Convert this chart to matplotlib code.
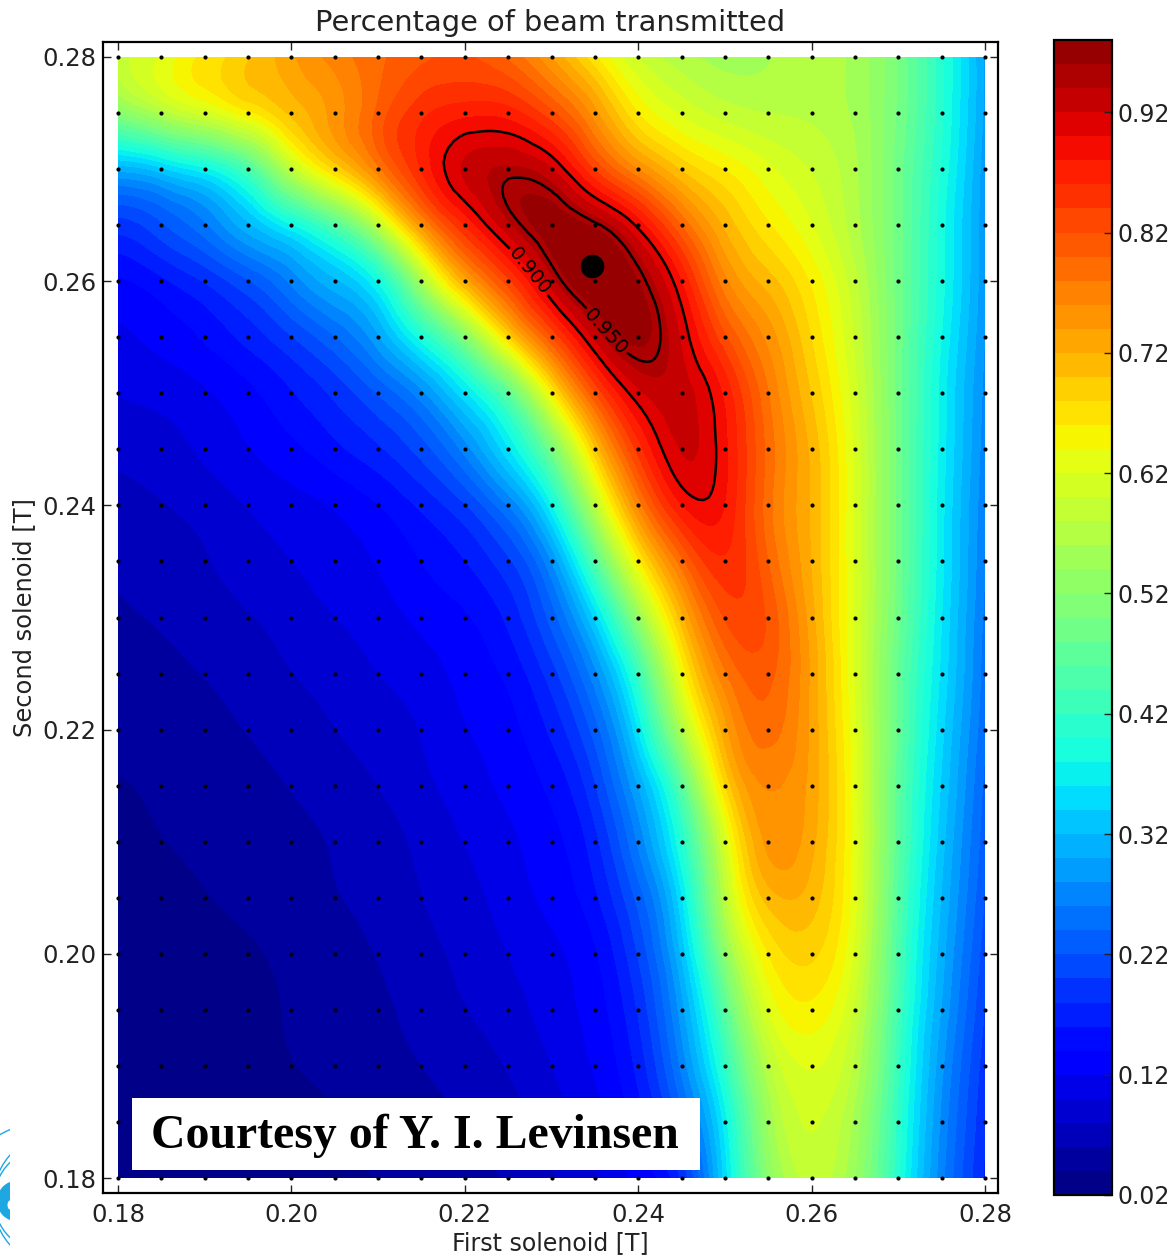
#!/usr/bin/python
import numpy as np
import matplotlib
matplotlib.use('Agg')
import matplotlib.pyplot as plt
import matplotlib.tri as mtri
from matplotlib.patches import Circle, Ellipse, Rectangle

# grid of the scan, both solenoids [T]
b1 = [0.180, 0.185, 0.190, 0.195, 0.200, 0.205, 0.210, 0.215, 0.220, 0.225, 0.230,
      0.235, 0.240, 0.245, 0.250, 0.255, 0.260, 0.265, 0.270, 0.275, 0.280]
b2 = [0.280, 0.275, 0.270, 0.265, 0.260, 0.255, 0.250, 0.245, 0.240, 0.235, 0.230,
      0.225, 0.220, 0.215, 0.210, 0.205, 0.200, 0.195, 0.190, 0.185, 0.180]

# transmitted fraction, one row per b2 (top row first)
trans = [
    [.59, .625, .67, .70, .74, .77, .795, .81, .82, .79, .73, .65, .585, .56, .545, .555, .57, .56, .50, .41, .28],
    [.53, .60, .64, .68, .72, .75, .81, .86, .875, .875, .83, .75, .65, .61, .585, .575, .575, .56, .50, .41, .28],
    [.285, .31, .345, .42, .60, .71, .80, .885, .945, .96, .935, .83, .75, .69, .66, .625, .60, .57, .49, .40, .27],
    [.18, .21, .25, .31, .36, .43, .57, .77, .875, .95, .99, .975, .91, .80, .71, .66, .62, .57, .49, .39, .27],
    [.13, .15, .175, .21, .26, .305, .35, .55, .74, .84, .945, 1.0, .975, .89, .755, .71, .66, .59, .49, .39, .27],
    [.115, .125, .14, .165, .195, .235, .29, .385, .50, .69, .83, .94, .985, .925, .82, .755, .68, .60, .49, .38, .265],
    [.10, .105, .115, .13, .155, .18, .215, .26, .34, .44, .65, .83, .925, .94, .885, .78, .70, .61, .49, .37, .26],
    [.085, .09, .105, .12, .135, .155, .175, .205, .265, .35, .48, .70, .86, .94, .895, .79, .72, .62, .49, .37, .255],
    [.07, .078, .085, .10, .11, .118, .135, .16, .19, .25, .36, .58, .78, .90, .895, .78, .72, .62, .49, .365, .25],
    [.062, .072, .078, .09, .10, .11, .12, .14, .155, .185, .26, .45, .66, .80, .875, .80, .72, .62, .49, .365, .245],
    [.056, .062, .07, .078, .088, .10, .11, .125, .135, .16, .22, .33, .53, .72, .84, .83, .73, .62, .485, .36, .24],
    [.048, .055, .06, .068, .08, .088, .10, .11, .125, .14, .185, .26, .41, .65, .79, .82, .74, .62, .47, .355, .235],
    [.042, .047, .054, .06, .068, .08, .088, .10, .12, .13, .16, .22, .35, .57, .75, .805, .74, .63, .47, .345, .23],
    [.039, .043, .05, .055, .06, .068, .08, .095, .11, .125, .14, .19, .29, .445, .70, .775, .74, .635, .46, .335, .22],
    [.03, .04, .045, .05, .055, .06, .068, .085, .10, .115, .13, .165, .26, .385, .62, .77, .735, .64, .46, .325, .215],
    [.026, .03, .039, .045, .05, .06, .066, .08, .092, .11, .125, .15, .22, .34, .59, .73, .72, .64, .45, .315, .205],
    [.023, .027, .03, .037, .043, .05, .06, .072, .085, .10, .115, .13, .195, .31, .53, .675, .695, .63, .44, .305, .195],
    [.021, .024, .028, .035, .042, .05, .057, .066, .08, .09, .11, .125, .175, .28, .46, .64, .665, .61, .43, .295, .185],
    [.021, .022, .025, .03, .04, .045, .052, .06, .07, .08, .10, .12, .16, .26, .41, .59, .63, .59, .42, .28, .175],
    [.021, .021, .023, .028, .032, .038, .045, .05, .06, .07, .09, .11, .145, .22, .36, .56, .615, .565, .41, .27, .17],
    [.021, .021, .022, .025, .03, .035, .04, .045, .05, .06, .075, .095, .12, .16, .345, .53, .60, .55, .40, .26, .165],
]

best_b1, best_b2 = 0.2347, 0.26136
levels_fill = np.arange(0.02, 0.985, 0.02)
levels_line = [0.90, 0.95]
label_pos = [(0.2273, 0.2608), (0.2367, 0.2558)]
xtick_vals = [0.18, 0.20, 0.22, 0.24, 0.26, 0.28]
ytick_vals = [0.18, 0.20, 0.22, 0.24, 0.26, 0.28]
cbar_ticks = [0.02, 0.12, 0.22, 0.32, 0.42, 0.52, 0.62, 0.72, 0.82, 0.92]

W, H = 1172, 1255
TXT = '#222222'
plt.rcParams['font.family'] = 'DejaVu Sans'

fig = plt.figure(figsize=(W/100., H/100.), dpi=100)

def px_axes(x0, y0, x1, y1):
    # rectangle given in picture pixels, y down
    return fig.add_axes([x0/W, 1-y1/H, (x1-x0)/W, (y1-y0)/H])

def smooth(z):
    # light 3x3 pass, takes the reading noise out of the hand read values
    k = np.array([[1., 2., 1.], [2., 20., 2.], [1., 2., 1.]])
    k /= k.sum()
    p = np.pad(z, 1, mode='edge')
    out = np.zeros_like(z)
    for i in range(z.shape[0]):
        for j in range(z.shape[1]):
            out[i, j] = (p[i:i+3, j:j+3]*k).sum()
    return out

ax = px_axes(103, 42, 998, 1193)
cax = px_axes(1054, 40, 1112, 1195)

X, Y = np.meshgrid(b1, b2)
Z = smooth(np.array(trans))
tri = mtri.Triangulation(X.ravel(), Y.ravel())
refiner = mtri.UniformTriRefiner(tri)
tri_f, z_f = refiner.refine_field(Z.ravel(), subdiv=3)
z_f = np.clip(z_f, 0.0201, 0.9799)

cs = ax.tricontourf(tri_f, z_f, levels=levels_fill, cmap='jet', vmin=0.02, vmax=0.99)
cl = ax.tricontour(tri_f, z_f, levels=levels_line, colors='k', linewidths=1.8)
ax.clabel(cl, fmt='%.3f', fontsize=14, manual=label_pos, inline=True, inline_spacing=3)
ax.plot(X.ravel(), Y.ravel(), ls='none', marker='o', ms=3, mfc='k', mec='k', mew=0)
ax.plot([best_b1], [best_b2], ls='none', marker='o', ms=16, mfc='k', mec='k')

ax.set_xlim(0.18-15/8670., 0.28+13/8670.)
ax.set_ylim(0.18-15/11210., 0.28+15/11210.)
ax.set_xticks(xtick_vals)
ax.set_yticks(ytick_vals)
ax.set_xticklabels(['%.2f'%v for v in xtick_vals])
ax.set_yticklabels(['%.2f'%v for v in ytick_vals])
ax.tick_params(direction='in', top=True, right=True, length=6, width=1, labelsize=17.5, colors=TXT, pad=5)
ax.tick_params(axis='x', pad=7)
for s in ax.spines.values():
    s.set_linewidth(1.6)
ax.set_title('Percentage of beam transmitted', fontsize=20.8, color=TXT, pad=8)
ax.set_xlabel('First solenoid [T]', fontsize=17, color=TXT, labelpad=3)
ax.set_ylabel('Second solenoid [T]', fontsize=17.4, color=TXT, labelpad=4)

cb = fig.colorbar(cs, cax=cax, ticks=cbar_ticks)
cb.ax.set_yticklabels(['%.2f'%v for v in cbar_ticks])
cb.ax.tick_params(direction='in', length=6, width=1, labelsize=17, colors=TXT, pad=4)
cb.outline.set_linewidth(1.6)

# overlays in picture pixels: white caption box and the clipped logo
ov = fig.add_axes([0, 0, 1, 1], facecolor='none')
ov.set_xlim(0, W)
ov.set_ylim(H, 0)
ov.axis('off')
ov.add_patch(Rectangle((132, 1098), 568, 72, fc='w', ec='none'))
ov.text(151, 1136, 'Courtesy of Y. I. Levinsen', family='Liberation Serif', weight='bold',
        fontsize=34.4, color='k', ha='left', va='center')
LOGO = '#1ea7e1'
clip = Rectangle((-5, 1100), 15, 155, transform=ov.transData)
logo = [Circle((17.5, 1201), 20.5, fc=LOGO, ec='none'),
        Ellipse((10, 1205), 5, 9, fc='w', ec='none'),
        Circle((61, 1200), 68, fc='none', ec=LOGO, lw=1),
        Circle((46, 1200), 52, fc='none', ec=LOGO, lw=1),
        Circle((38.75, 1200), 76, fc='none', ec=LOGO, lw=1)]
for p in logo:
    ov.add_patch(p)
    p.set_clip_path(clip)

fig.savefig('out.png', dpi=100)
